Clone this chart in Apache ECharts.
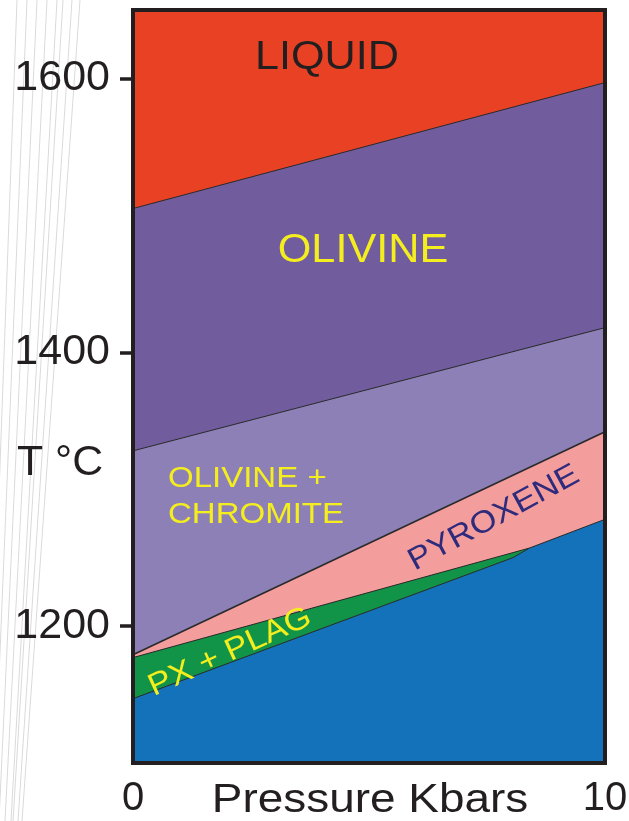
<!DOCTYPE html>
<html>
<head>
<meta charset="utf-8">
<script src="https://cdn.jsdelivr.net/npm/echarts@6/dist/echarts.min.js"></script>
<style>
  html, body { margin: 0; padding: 0; background: #ffffff; }
  #chart { width: 629px; height: 821px; }
</style>
</head>
<body>
<div id="chart"></div>
<script>
// Phase boundaries of a basaltic melt, temperature (°C) against pressure (kbar)
const pressureRange = [0, 10];
const tempRange = [1100, 1650];
const tempTicks = [1200, 1400, 1600];
const pressureTicks = [0, 10];

// Each boundary as [pressure, temperature] pairs
const liquidTop = [[0, 1650], [10, 1650]];
const liquidus = [[0, 1505], [10, 1597]];
const olivineChromiteTop = [[0, 1328], [10, 1418]];
const pyroxeneTop = [[0, 1179], [10, 1342]];
const pxPlagTop = [[0, 1177], [8.4, 1257]];
const solidus = [[0, 1147], [8.05, 1250], [8.4, 1257], [10, 1278]];

// Fields drawn from the top down; each one fills down to the axis floor
const fieldNames = ['LIQUID', 'OLIVINE', 'OLIVINE + CHROMITE', 'PYROXENE', 'PX + PLAG', 'SOLID'];
const fieldLines = [liquidTop, liquidus, olivineChromiteTop, pyroxeneTop, pxPlagTop, solidus];

const fieldColors = ['#E94124', '#715C9E', '#8C80B7', '#F39D9D', '#129448', '#1472BA'];
const edgeWidths = [0, 1, 1, 1.6, 1, 1];

const FONT = '"Liberation Sans", Arial, sans-serif';
const INK = '#231F20';

const G = { left: 133, top: 10, right: 24, bottom: 58 };
const W = 629, H = 821;

const chart = echarts.init(document.getElementById('chart'), null, { renderer: 'canvas' });

const series = fieldLines.map((pts, i) => ({
  name: fieldNames[i],
  type: 'line',
  data: pts,
  symbol: 'none',
  silent: true,
  z: 2 + i,
  lineStyle: { color: '#2A2A2A', width: edgeWidths[i], opacity: edgeWidths[i] ? 1 : 0 },
  areaStyle: { color: fieldColors[i], opacity: 1, origin: 'start' },
  animation: false
}));

// Faint guide strokes in the left margin
const marginStrokes = [17, 27, 37, 47, 57, 63, 72, 80].map((x0, k) => ({
  type: 'line',
  silent: true,
  z: 0,
  shape: { x1: x0, y1: 0, x2: x0 - 30 - k * 4, y2: H },
  style: { stroke: '#DADADA', lineWidth: 1 }
}));

function label(text, x, y, size, color, opts) {
  opts = opts || {};
  return {
    type: 'text',
    x: x, y: y,
    rotation: opts.rotation || 0,
    scaleX: opts.scaleX || 1.08,
    silent: true,
    z: 100,
    style: {
      text: text,
      fontSize: size,
      fontFamily: FONT,
      fill: color,
      textAlign: opts.align || 'center',
      textVerticalAlign: 'middle',
      align: opts.align || 'center',
      verticalAlign: 'middle',
      lineHeight: opts.lineHeight || size * 1.15
    }
  };
}

chart.setOption({
  animation: false,
  backgroundColor: '#ffffff',
  grid: {
    left: G.left, top: G.top, right: G.right, bottom: G.bottom,
    containLabel: false,
    outerBoundsMode: 'none'
  },
  xAxis: {
    type: 'value',
    min: pressureRange[0],
    max: pressureRange[1],
    axisLine: { show: false },
    axisTick: { show: false },
    splitLine: { show: false },
    axisLabel: {
      customValues: pressureTicks,
      formatter: (v) => String(v),
      fontSize: 40,
      fontFamily: FONT,
      color: INK,
      margin: 16
    }
  },
  yAxis: {
    type: 'value',
    min: tempRange[0],
    max: tempRange[1],
    axisLine: { show: false },
    splitLine: { show: false },
    axisTick: {
      show: true,
      customValues: tempTicks,
      inside: false,
      length: 13,
      lineStyle: { color: INK, width: 3.5 }
    },
    axisLabel: {
      customValues: tempTicks,
      formatter: (v) => String(v),
      fontSize: 43,
      fontFamily: FONT,
      color: INK,
      margin: 23,
      padding: [0, 0, 10, 0]
    }
  },
  series: series,
  graphic: [
    ...marginStrokes,
    // plot frame
    {
      type: 'rect',
      silent: true,
      z: 90,
      shape: { x: G.left, y: G.top, width: W - G.left - G.right, height: H - G.top - G.bottom },
      style: { fill: 'none', stroke: INK, lineWidth: 4 }
    },
    label('LIQUID', 327, 58, 40, INK),
    label('OLIVINE', 363, 251, 40, '#F5EE1E'),
    label('OLIVINE +\nCHROMITE', 168, 497, 30, '#F5EE1E', { align: 'left', lineHeight: 36, scaleX: 1.1 }),
    label('PYROXENE', 494, 518, 31, '#2E2B7C', { rotation: 28.5 * Math.PI / 180, scaleX: 1.1 }),
    label('PX + PLAG', 230, 652, 31, '#F5EE1E', { rotation: 24.5 * Math.PI / 180, scaleX: 1.1 }),
    label('T \u00B0C', 60, 463, 42, INK, { scaleX: 1.02 }),
    // pressure axis title
    label('Pressure Kbars', 370, 801, 41, INK, { scaleX: 1.12 })
  ]
});
</script>
</body>
</html>
